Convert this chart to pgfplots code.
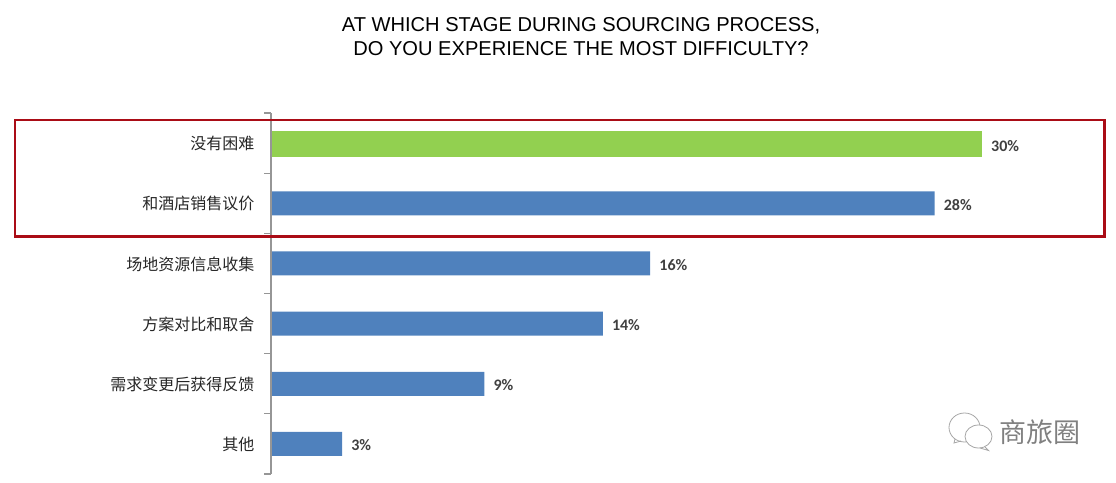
\documentclass[border=0pt]{standalone}
\usepackage{fontspec}
\usepackage{pgfplots}
\pgfplotsset{compat=1.18}
\setmainfont{Liberation Sans}
\newfontfamily\cjk{Noto Sans CJK SC}
\newfontfamily\lab{Carlito}
\definecolor{barblue}{RGB}{79,129,189}
\definecolor{bargreen}{RGB}{146,208,80}
\definecolor{boxred}{RGB}{170,12,22}
\definecolor{axisgray}{RGB}{150,150,150}
\begin{document}
\begin{tikzpicture}[x=1pt,y=1pt]
 \path (0,0) rectangle (1116,482);
 \begin{axis}[
  at={(271pt,8pt)},
  anchor=south west,
  scale only axis,
  width=711pt,
  height=361pt,
  xmin=0, xmax=30,
  ymin=-0.5, ymax=5.5,
  y dir=reverse,
  axis lines=left,
  x axis line style={draw=none},
  y axis line style={draw=axisgray, line width=1.6pt, -},
  xtick=\empty,
  xbar,
  bar width=24pt,
  clip=false,
  ytick={0,1,2,3,4,5},
  yticklabels={没有困难,和酒店销售议价,场地资源信息收集,方案对比和取舍,需求变更后获得反馈,其他},
  major tick length=0pt,
  tick align=outside,
  tick style={draw=axisgray, line width=1pt},
  yticklabel style={font=\fontsize{16}{18}\cjk, text=black!85, xshift=-13pt, yshift=-0.5pt},
  /pgf/number format/assume math mode=true,
  point meta=x,
  nodes near coords={\pgfmathprintnumber{\pgfplotspointmeta}\%},
  every node near coord/.append style={font=\fontsize{16}{18}\lab\bfseries, text=black!75, inner xsep=9pt, yshift=-1.5pt},
 ]
  \addplot[xbar, bar shift=0pt, bar width=26pt, fill=bargreen, draw=none] coordinates {
   (30, 0.02)};
  \addplot[xbar, bar shift=0pt, fill=barblue, draw=none] coordinates {
   (28, 1)
   (16, 2)
   (14, 3)
   (9, 4)
   (3, 5)};
 \end{axis}
 % axis line and separators between categories
 \draw[axisgray, line width=1.8pt] (271,8) -- (271,369);
 \foreach \t in {8,68.2,128.3,188.5,248.7,308.8,369}
  \draw[axisgray, line width=1.1pt] (264,\t) -- (271,\t);
 % title
 \node[font=\fontsize{20.1}{24}\selectfont, align=center, text=black] at (581,445)
  {AT WHICH STAGE DURING SOURCING PROCESS,\\ DO YOU EXPERIENCE THE MOST DIFFICULTY?};
 % highlight box
 \draw[boxred, line width=2.8pt] (15,362) rectangle (1104.5,245.3);
 % watermark
 \node[font=\fontsize{27}{30}\cjk, text=black!50, anchor=west] at (996,50) {商旅圈};
 \draw[black!35, line width=0.8pt] (964.5,54.5) ellipse (15.5 and 14.5);
 \draw[black!35, line width=0.8pt] (955,43) -- (954,39) -- (961,41);
 \draw[black!35, line width=0.8pt, fill=white] (978.5,45.5) ellipse (13.5 and 11.5);
 \draw[black!35, line width=0.8pt] (985,35) -- (988.5,31.5) -- (980,34);
\end{tikzpicture}
\end{document}
